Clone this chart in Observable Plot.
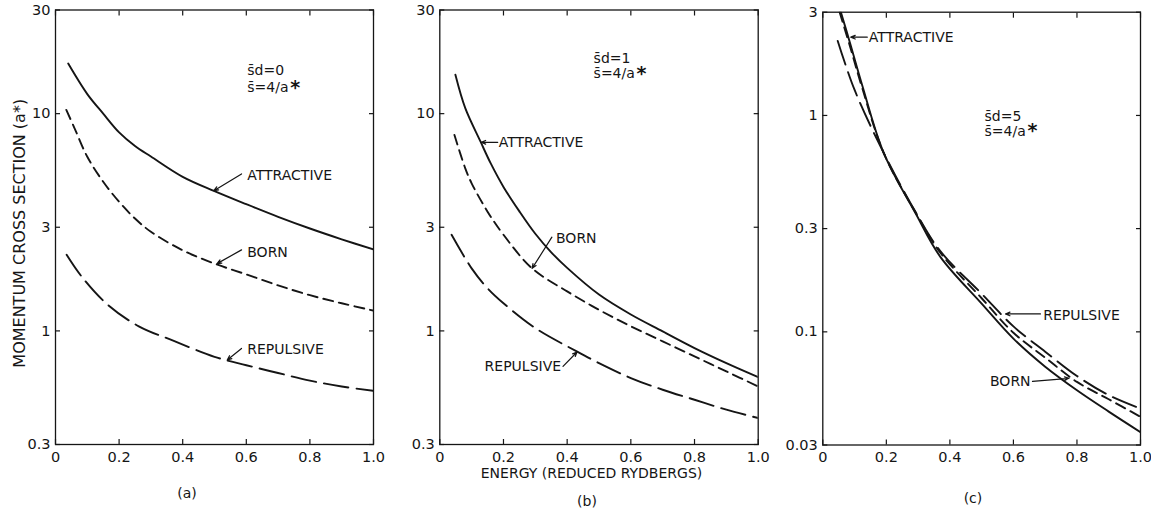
<!DOCTYPE html>
<html>
<head>
<meta charset="utf-8">
<script src="https://cdn.jsdelivr.net/npm/d3@7"></script>
<script src="https://cdn.jsdelivr.net/npm/@observablehq/plot@0.6"></script>
<style>
  body { margin: 0; background: #fff; }
  #wrap { position: relative; width: 1151px; height: 514px; overflow: hidden; background: #fff; }
  #wrap svg { position: absolute; top: 0; overflow: visible; }
</style>
</head>
<body>
<div id="wrap"></div>
<script>
// ---------- axis ticks ----------
const xTicks = [0, 0.2, 0.4, 0.6, 0.8, 1.0];
const xTickLabels = ["0", "0.2", "0.4", "0.6", "0.8", "1.0"];
const yTicksAB = [0.3, 1, 3, 10, 30];
const yTickLabelsAB = ["0.3", "1", "3", "10", "30"];
const yTicksC = [0.03, 0.1, 0.3, 1, 3];
const yTickLabelsC = ["0.03", "0.1", "0.3", "1", "3"];

const yTitle = "MOMENTUM CROSS SECTION (a*)";
const xTitle = "ENERGY (REDUCED RYDBERGS)";
const seriesNames = ["ATTRACTIVE", "BORN", "REPULSIVE"];
const panelCaptions = ["(a)", "(b)", "(c)"];

// ---------- panel (a): s̄d = 0 ----------
const aAttractiveE = [0.04, 0.1, 0.15, 0.2, 0.25, 0.3, 0.4, 0.5, 0.6, 0.7, 0.8, 0.9, 1.0];
const aAttractiveQ = [17.0, 12.3, 10.0, 8.2, 7.1, 6.35, 5.12, 4.40, 3.83, 3.35, 2.96, 2.64, 2.37];
const aBornE = [0.034, 0.06, 0.1, 0.15, 0.2, 0.25, 0.3, 0.4, 0.5, 0.6, 0.7, 0.8, 0.9, 1.0];
const aBornQ = [10.4, 8.56, 6.33, 4.86, 3.93, 3.29, 2.86, 2.35, 2.04, 1.82, 1.62, 1.46, 1.34, 1.24];
const aRepulsiveE = [0.035, 0.082, 0.164, 0.262, 0.372, 0.5, 0.6, 0.7, 0.8, 0.9, 1.0];
const aRepulsiveQ = [2.24, 1.78, 1.32, 1.05, 0.90, 0.76, 0.695, 0.64, 0.59, 0.555, 0.53];
const aLabelE = [0.603, 0.603, 0.603];
const aLabelQ = [5.19, 2.30, 0.82];
const aLabelAnchor = ["start", "start", "start"];
const aArrowFromE = [0.585, 0.585, 0.585];
const aArrowFromQ = [5.28, 2.36, 0.83];
const aArrowToE = [0.498, 0.508, 0.54];
const aArrowToQ = [4.42, 2.04, 0.735];
const aParamText = ["s\u0304d=0", "s\u0304=4/a"];
const aParamE = [0.603, 0.603];
const aParamQ = [15.8, 13.2];

// ---------- panel (b): s̄d = 1 ----------
const bAttractiveE = [0.049, 0.08, 0.128, 0.16, 0.2, 0.25, 0.3, 0.35, 0.4, 0.5, 0.6, 0.7, 0.8, 0.9, 1.0];
const bAttractiveQ = [15.1, 10.6, 7.43, 5.9, 4.6, 3.55, 2.8, 2.3, 1.95, 1.47, 1.19, 0.995, 0.834, 0.711, 0.613];
const bBornE = [0.046, 0.08, 0.1, 0.15, 0.2, 0.29, 0.4, 0.5, 0.6, 0.7, 0.8, 0.9, 1.0];
const bBornQ = [7.98, 5.6, 4.78, 3.54, 2.77, 1.94, 1.52, 1.25, 1.05, 0.895, 0.763, 0.651, 0.555];
const bRepulsiveE = [0.037, 0.1, 0.15, 0.2, 0.3, 0.43, 0.5, 0.6, 0.7, 0.8, 0.9, 1.0];
const bRepulsiveQ = [2.77, 1.94, 1.57, 1.34, 1.03, 0.805, 0.711, 0.607, 0.536, 0.482, 0.434, 0.397];
const bLabelE = [0.185, 0.365, 0.381];
const bLabelQ = [7.38, 2.67, 0.685];
const bLabelAnchor = ["start", "start", "end"];
const bArrowFromE = [0.182, 0.352, 0.387];
const bArrowFromQ = [7.38, 2.70, 0.687];
const bArrowToE = [0.13, 0.29, 0.431];
const bArrowToQ = [7.38, 1.94, 0.80];
const bParamText = ["s\u0304d=1", "s\u0304=4/a"];
const bParamE = [0.483, 0.483];
const bParamQ = [17.9, 15.3];

// ---------- panel (c): s̄d = 5 ----------
const cAttractiveE = [0.057, 0.085, 0.124, 0.192, 0.292, 0.37, 0.5, 0.6, 0.7, 0.8, 0.9, 1.0];
const cAttractiveQ = [3.0, 2.18, 1.38, 0.67, 0.353, 0.222, 0.135, 0.093, 0.069, 0.0537, 0.0428, 0.0344];
const cBornE = [0.053, 0.085, 0.124, 0.192, 0.292, 0.37, 0.5, 0.6, 0.7, 0.8, 0.9, 1.0];
const cBornQ = [3.0, 2.1, 1.34, 0.67, 0.356, 0.232, 0.143, 0.099, 0.076, 0.0587, 0.0488, 0.0405];
const cRepulsiveE = [0.047, 0.0998, 0.192, 0.292, 0.37, 0.5, 0.6, 0.7, 0.8, 0.9, 1.0];
const cRepulsiveQ = [2.21, 1.315, 0.67, 0.358, 0.236, 0.150, 0.106, 0.081, 0.0625, 0.051, 0.0442];
const cLabelE = [0.145, 0.654, 0.694];
const cLabelQ = [2.30, 0.059, 0.119];
const cLabelAnchor = ["start", "end", "start"];
const cArrowFromE = [0.14, 0.66, 0.685];
const cArrowFromQ = [2.30, 0.059, 0.121];
const cArrowToE = [0.088, 0.775, 0.575];
const cArrowToQ = [2.30, 0.061, 0.121];
const cParamText = ["s\u0304d=5", "s\u0304=4/a"];
const cParamE = [0.509, 0.509];
const cParamQ = [0.99, 0.846];

// ---------- helpers ----------
const zip = (xs, ys) => xs.map((x, i) => ({x, y: ys[i]}));
const INK = "#151515";
const dashes = [null, "10,6", "25,8"];

function panel(cfg) {
  const fmtY = new Map(cfg.yTicks.map((t, i) => [t, cfg.yTickLabels[i]]));
  const fmtX = new Map(xTicks.map((t, i) => [t, xTickLabels[i]]));
  const curves = cfg.series.map(([xs, ys], k) =>
    Plot.line(zip(xs, ys), {
      x: "x", y: "y", stroke: INK, strokeWidth: 1.9,
      strokeDasharray: dashes[k] || undefined, curve: "catmull-rom", clip: true
    }));
  const labels = seriesNames.map((name, i) => ({
    x: cfg.labelE[i], y: cfg.labelQ[i], text: name, anchor: cfg.labelAnchor[i]
  }));
  const arrows = seriesNames.map((name, i) => ({
    x1: cfg.fromE[i], y1: cfg.fromQ[i], x2: cfg.toE[i], y2: cfg.toQ[i]
  }));
  const params = cfg.paramText.map((t, i) => ({x: cfg.paramE[i], y: cfg.paramQ[i], text: t}));
  const marks = [
    Plot.frame({stroke: INK, strokeWidth: 1.3}),
    // tick labels
    Plot.axisY({ticks: cfg.yTicks, tickFormat: d => fmtY.get(d), tickSize: 0, tickPadding: 5, label: null, fontSize: 14.5, fill: INK}),
    Plot.axisX({ticks: xTicks, tickFormat: d => fmtX.get(d), tickSize: 0, tickPadding: 7, label: null, fontSize: 14.5, fill: INK}),
    // inward ticks on all four sides
    Plot.axisY({anchor: "left", ticks: cfg.yTicks, tickSize: 5, insetLeft: 5, fill: "none", label: null, stroke: INK, strokeWidth: 1.2}),
    Plot.axisY({anchor: "right", ticks: cfg.yTicks, tickSize: 5, insetRight: 5, fill: "none", label: null, stroke: INK, strokeWidth: 1.2}),
    Plot.axisX({anchor: "bottom", ticks: xTicks, tickSize: 5, insetBottom: 5, fill: "none", label: null, stroke: INK, strokeWidth: 1.2}),
    Plot.axisX({anchor: "top", ticks: xTicks, tickSize: 5, insetTop: 5, fill: "none", label: null, stroke: INK, strokeWidth: 1.2}),
    ...curves,
    Plot.arrow(arrows, {x1: "x1", y1: "y1", x2: "x2", y2: "y2", stroke: INK, strokeWidth: 1.2, headLength: 6, headAngle: 45}),
    Plot.text(labels.filter(d => d.anchor === "start"), {x: "x", y: "y", text: "text", textAnchor: "start", fontSize: 14, fill: INK}),
    Plot.text(labels.filter(d => d.anchor === "end"), {x: "x", y: "y", text: "text", textAnchor: "end", fontSize: 14, fill: INK}),
    Plot.text(params, {x: "x", y: "y", text: "text", textAnchor: "start", fontSize: 14, fill: INK}),
    Plot.text(params.slice(1), {x: "x", y: "y", text: () => "*", textAnchor: "start", dx: 43, dy: 0, fontSize: 19, fontWeight: "bold", fill: INK}),
    Plot.text([cfg.caption], {frameAnchor: "bottom", textAnchor: "middle", dx: cfg.capDx, dy: cfg.capDy, fontSize: 14, fill: INK})
  ];
  if (cfg.yTitle) marks.push(Plot.text([cfg.yTitle], {frameAnchor: "left", textAnchor: "middle", lineAnchor: "middle", rotate: -90, dx: -36, dy: 6, fontSize: 16, fill: INK}));
  if (cfg.xTitle) marks.push(Plot.text([cfg.xTitle], {frameAnchor: "bottom", textAnchor: "middle", dx: -7.5, dy: 33, fontSize: 14, fill: INK}));
  const svg = Plot.plot({
    width: cfg.width, height: 514,
    marginLeft: cfg.ml, marginRight: cfg.mr, marginTop: cfg.mt, marginBottom: cfg.mb,
    x: {domain: [0, 1]},
    y: {type: "log", domain: cfg.yDomain},
    style: {fontFamily: "DejaVu Sans", fontSize: "13px", background: "transparent", overflow: "visible", color: INK},
    marks
  });
  svg.style.left = cfg.left + "px";
  document.getElementById("wrap").appendChild(svg);
}

panel({
  left: 0, width: 390, ml: 55, mr: 17, mt: 9.5, mb: 70,
  yDomain: [0.3, 30], yTicks: yTicksAB, yTickLabels: yTickLabelsAB,
  series: [[aAttractiveE, aAttractiveQ], [aBornE, aBornQ], [aRepulsiveE, aRepulsiveQ]],
  labelE: aLabelE, labelQ: aLabelQ, labelAnchor: aLabelAnchor,
  fromE: aArrowFromE, fromQ: aArrowFromQ, toE: aArrowToE, toQ: aArrowToQ,
  paramText: aParamText, paramE: aParamE, paramQ: aParamQ,
  caption: panelCaptions[0], capDx: -27.5, capDy: 53.5,
  yTitle: yTitle
});
panel({
  left: 390, width: 380, ml: 49.3, mr: 12.3, mt: 9.5, mb: 70,
  yDomain: [0.3, 30], yTicks: yTicksAB, yTickLabels: yTickLabelsAB,
  series: [[bAttractiveE, bAttractiveQ], [bBornE, bBornQ], [bRepulsiveE, bRepulsiveQ]],
  labelE: bLabelE, labelQ: bLabelQ, labelAnchor: bLabelAnchor,
  fromE: bArrowFromE, fromQ: bArrowFromQ, toE: bArrowToE, toQ: bArrowToQ,
  paramText: bParamText, paramE: bParamE, paramQ: bParamQ,
  caption: panelCaptions[1], capDx: -12, capDy: 61,
  xTitle: xTitle
});
panel({
  left: 770, width: 381, ml: 52.3, mr: 11, mt: 11.7, mb: 69.5,
  yDomain: [0.03, 3], yTicks: yTicksC, yTickLabels: yTickLabelsC,
  series: [[cAttractiveE, cAttractiveQ], [cBornE, cBornQ], [cRepulsiveE, cRepulsiveQ]],
  labelE: cLabelE, labelQ: cLabelQ, labelAnchor: cLabelAnchor,
  fromE: cArrowFromE, fromQ: cArrowFromQ, toE: cArrowToE, toQ: cArrowToQ,
  paramText: cParamText, paramE: cParamE, paramQ: cParamQ,
  caption: panelCaptions[2], capDx: -8.7, capDy: 58
});
</script>
</body>
</html>
